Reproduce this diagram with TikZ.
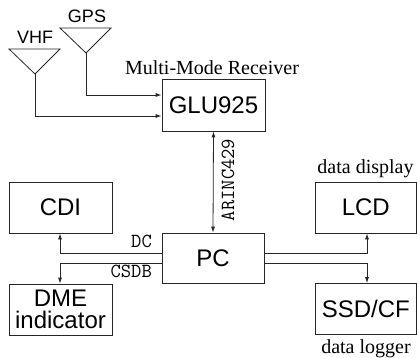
\documentclass[tikz,border=0pt]{standalone}
\usepackage{fontspec}
\setmainfont{Liberation Serif}
\setsansfont{Liberation Sans}
\usetikzlibrary{arrows.meta,calc}
\begin{document}
\begin{tikzpicture}[x=1pt,y=-1pt,
  box/.style={draw=black!85,line width=0.8pt,rectangle,inner sep=0pt,align=center,font=\sffamily\fontsize{24}{22.5}\selectfont},
  conn/.style={draw=black!85,line width=0.8pt},
  arr/.style={conn,-{Latex[length=6pt,width=4pt]}},
  darr/.style={conn,{Latex[length=6pt,width=4pt]}-{Latex[length=6pt,width=4pt]}},
  ant/.style={draw=black!85,line width=0.8pt,line join=miter},
  serif/.style={font=\fontsize{20}{22}\selectfont,inner sep=0pt},
  mono/.style={font=\ttfamily\fontsize{20}{22}\selectfont,inner sep=0pt},
  antlabel/.style={font=\sffamily\fontsize{18}{20}\selectfont,inner sep=0pt}]
\useasboundingbox (0,0) rectangle (417,358);
% boxes
\node[box,minimum width=103pt,minimum height=52pt] (glu) at (213.5,105) {GLU925};
\node[box,minimum width=102pt,minimum height=50pt] (pc) at (213,258) {PC};
\node[box,minimum width=103pt,minimum height=51pt] (cdi) at (60.5,207.5) {CDI};
\node[box,minimum width=103pt,minimum height=51pt] (dme) at (60.5,309.5) {DME\\indicator};
\node[box,minimum width=101pt,minimum height=51pt] (lcd) at (365.75,207.5) {LCD};
\node[box,minimum width=101pt,minimum height=51pt] (ssd) at (365.75,309) {SSD/CF};
% labels
\node[serif,anchor=base] (mmr) at (212,74.5) {Multi-Mode Receiver};
\node[serif,anchor=base] (dd) at (365.5,174) {data display};
\node[serif,anchor=base] (dl) at (366,353) {data logger};
% antennas
\coordinate (vhfa) at (35,74);
\coordinate (gpsa) at (86,53);
\draw[ant] (9,49) -- (60,49) -- (vhfa) -- cycle;
\draw[ant] (60,28) -- (111,28) -- (gpsa) -- cycle;
\node[antlabel] (vhf) at (35,37.5) {VHF};
\node[antlabel] (gps) at (87,16.5) {GPS};
% connectors
\draw[arr] (vhfa) |- (glu.west |- 0,116);
\draw[arr] (gpsa) |- (glu.west |- 0,95);
\draw[darr] (pc.north) -- (glu.south);
\node[mono,rotate=90] (arinc) at (228,180) {ARINC429};
\coordinate (lft) at (60,0);
\coordinate (rgt) at (367,0);
\draw[arr] (pc.west |- 0,253) -| (lft |- cdi.south);
\draw[arr] (pc.west |- 0,263) -| (lft |- dme.north);
\draw[arr] (pc.east |- 0,253) -| (rgt |- lcd.south);
\draw[arr] (pc.east |- 0,263) -| (rgt |- ssd.north);
\node[mono,anchor=base east] (dc) at (152,247) {DC};
\node[mono,anchor=base east] (csdb) at (152,277.5) {CSDB};
\end{tikzpicture}
\end{document}
